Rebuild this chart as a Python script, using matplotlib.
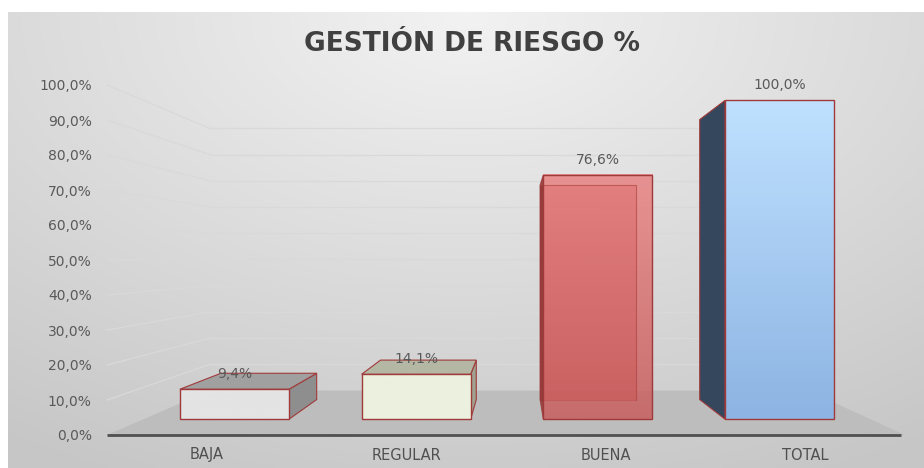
import numpy as np
import matplotlib
matplotlib.use("Agg")
import matplotlib.pyplot as plt
from matplotlib.patches import Polygon

# datos
categorias = ["BAJA", "REGULAR", "BUENA", "TOTAL"]
valores = [9.4, 14.1, 76.6, 100.0]
etiquetas = ["9,4%", "14,1%", "76,6%", "100,0%"]
ticks_y = [0, 10, 20, 30, 40, 50, 60, 70, 80, 90, 100]
ticks_y_txt = ["0,0%", "10,0%", "20,0%", "30,0%", "40,0%", "50,0%",
               "60,0%", "70,0%", "80,0%", "90,0%", "100,0%"]
titulo = "GESTIÓN DE RIESGO %"

# estilo de cada barra: frente (arriba, abajo), lado, techo
frente = [("#e4e4e4", "#e4e4e4"), ("#ebf1de", "#ebf1de"),
          ("#e98484", "#c85e5e"), ("#bfe1ff", "#8db4e3")]
lado = ["#8e8e8e", "#9fa290", "#8f3535", "#35475c"]
techo = ["#a0a0a0", "#b3b7a3", "#d07070", "#9cc3ee"]
borde = "#a03a3a"

# perspectiva (punto de fuga en coordenadas de datos)
VX, VY = 1.555, 50.6
Z_PARED = 0.335
Z_FRENTE, Z_FONDO = 0.0977, 0.25
ANCHO = 0.6


def proy(x, v, z):
    s = 1.0 / (1.0 + z)
    return VX + (x - VX) * s, VY + (v - VY) * s


fig = plt.figure(figsize=(9.24, 4.68), dpi=100)

# fondo degradado
fondo = fig.add_axes([0, 0, 1, 1])
fondo.axis("off")
xx, yy = np.meshgrid(np.linspace(0, 1, 200), np.linspace(0, 1, 100))
r = np.sqrt(((xx - 0.5) * 1.1) ** 2 + (yy * 0.9) ** 2)
g = 0.95 - 0.17 * np.clip(r, 0, 1)
fondo.imshow(np.dstack([g, g, g]), extent=(8, 924, 468, 12), aspect="auto",
             interpolation="bilinear", zorder=0)
fondo.set_xlim(0, 924)
fondo.set_ylim(468, 0)

ax = fig.add_axes([107 / 924, 33 / 468, 798 / 924, 350 / 468])
ax.set_xlim(-0.5, 3.5)
ax.set_ylim(0, 100)
ax.patch.set_alpha(0)
for s in ax.spines.values():
    s.set_visible(False)

# piso
piso = [proy(-0.5, 0, 0), proy(3.5, 0, 0), proy(3.5, 0, Z_PARED), proy(-0.5, 0, Z_PARED)]
ax.add_patch(Polygon(piso, closed=True, facecolor="#bdbdbd", edgecolor="none",
                     zorder=1, clip_on=False))

# lineas de division (pared lateral y pared del fondo)
for t in ticks_y[1:]:
    p0 = proy(-0.5, t, 0)
    p1 = proy(-0.5, t, Z_PARED)
    p2 = proy(3.5, t, Z_PARED)
    ax.plot([p0[0], p1[0]], [p0[1], p1[1]], color="#d9d9d9", lw=0.9, zorder=1.5,
            clip_on=False)
    ax.plot([p1[0], p2[0]], [p1[1], p2[1]], color="#d9d9d9", lw=0.9, zorder=1.5,
            clip_on=False)

# eje
ax.plot([-0.5, 3.48], [0, 0], color="#505050", lw=2, zorder=2, clip_on=False,
        solid_capstyle="butt")

# barras
for i, v in enumerate(valores):
    x0, x1 = i - ANCHO / 2, i + ANCHO / 2
    f = [proy(x0, 0, Z_FRENTE), proy(x1, 0, Z_FRENTE), proy(x1, v, Z_FRENTE), proy(x0, v, Z_FRENTE)]
    b = [proy(x0, 0, Z_FONDO), proy(x1, 0, Z_FONDO), proy(x1, v, Z_FONDO), proy(x0, v, Z_FONDO)]
    transp = i == 2
    alfa = 0.85 if transp else 1.0
    if transp:
        ax.add_patch(Polygon(b, closed=True, facecolor=frente[i][1], edgecolor=borde,
                             lw=0.8, alpha=0.9, zorder=3))
    # lado visible
    if x1 < VX:
        ax.add_patch(Polygon([f[1], b[1], b[2], f[2]], closed=True, facecolor=lado[i],
                             edgecolor=borde, lw=0.8, alpha=alfa, zorder=3.2))
    else:
        ax.add_patch(Polygon([f[0], b[0], b[3], f[3]], closed=True, facecolor=lado[i],
                             edgecolor=borde, lw=0.8, alpha=alfa, zorder=3.2))
    # techo visible
    if v < VY:
        ax.add_patch(Polygon([f[3], f[2], b[2], b[3]], closed=True, facecolor=techo[i],
                             edgecolor=borde, lw=0.8, zorder=3.3))
    # frente con degradado
    arriba, abajo = frente[i]
    c0 = np.array(matplotlib.colors.to_rgb(arriba))
    c1 = np.array(matplotlib.colors.to_rgb(abajo))
    k = np.linspace(0, 1, 50)[:, None]
    img = (c0 * (1 - k) + c1 * k)[:, None, :]
    ax.imshow(img, extent=(f[0][0], f[1][0], f[0][1], f[3][1]), aspect="auto",
              origin="upper", interpolation="bilinear", alpha=alfa, zorder=3.4)
    ax.add_patch(Polygon(f, closed=True, facecolor="none", edgecolor=borde, lw=1.0,
                         zorder=3.5))
    if transp:
        ax.plot([b[3][0], b[2][0], b[1][0]], [b[3][1], b[2][1], b[1][1]], color="#b04545",
                lw=0.8, alpha=0.6, zorder=3.6)
    # etiqueta
    cx = (f[0][0] + f[1][0]) / 2
    ax.annotate(etiquetas[i], (cx, f[3][1]), xytext=(0, 15), textcoords="offset pixels",
                ha="center", va="center", fontsize=10, color="#595959", zorder=5)

ax.set_xlim(-0.5, 3.5)
ax.set_ylim(0, 100)
ax.set_xticks(range(len(categorias)))
ax.set_xticklabels(categorias, fontsize=10.5, color="#505050")
ax.set_yticks(ticks_y)
ax.set_yticklabels(ticks_y_txt, fontsize=10, color="#595959")
ax.tick_params(axis="y", length=0, pad=11)
ax.tick_params(axis="x", length=0, pad=9)

fig.text(472 / 924, 1 - 44 / 468, titulo, ha="center", va="center", fontsize=19,
         fontweight="bold", color="#404040")

fig.savefig("out.png", dpi=100)
